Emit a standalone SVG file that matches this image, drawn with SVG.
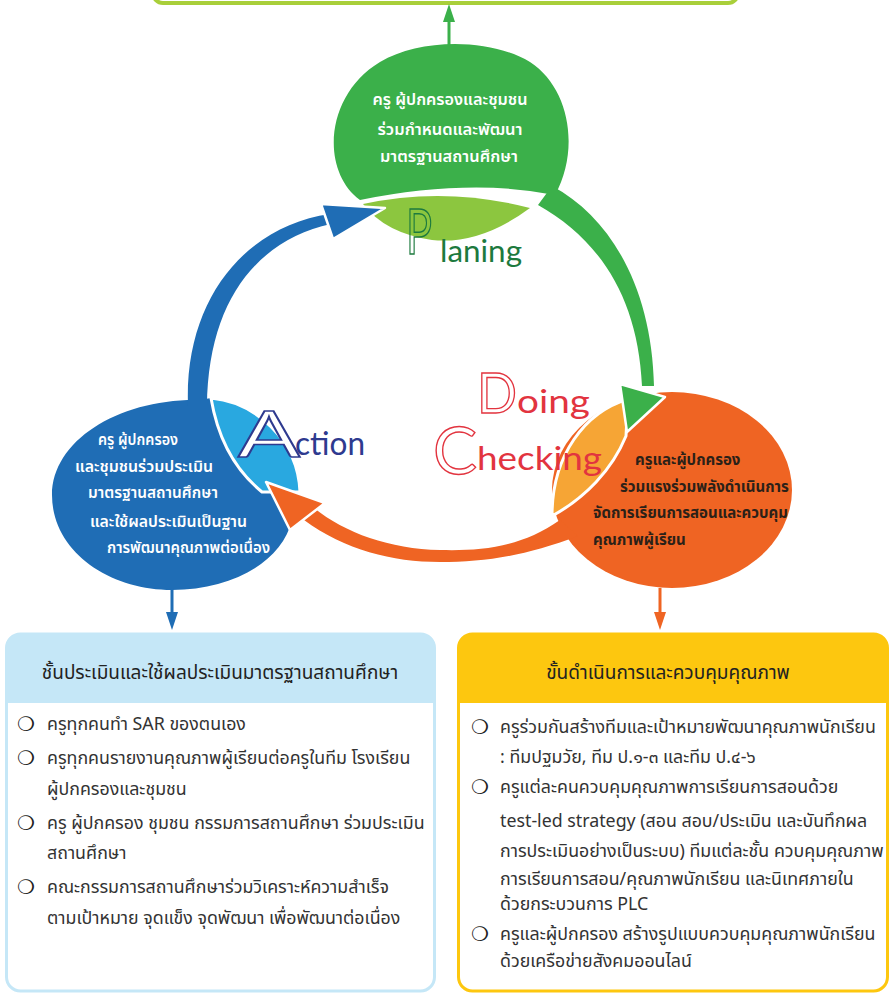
<svg xmlns="http://www.w3.org/2000/svg" width="893" height="994" viewBox="0 0 893 994">
<style>
.th{font-family:"Noto Sans Thai","Noto Sans Thai UI","Noto Sans","DejaVu Sans",sans-serif}
.ct{font-size:15px;font-weight:600;fill:#fff}
.cd{font-size:15px;font-weight:700;fill:#2b2118}
.body{font-size:17.8px;fill:#333}
.title{font-size:19px;fill:#222;text-anchor:middle}
.bul{font-family:"DejaVu Sans",sans-serif;font-size:20px;fill:#222}
.lat{font-family:Lato,"Open Sans",sans-serif}
.hw{stroke:#fff;stroke-width:2.5;stroke-linejoin:round}
</style>
<rect width="893" height="994" fill="#fff"/>

<g id="top-box">
<rect x="153" y="-30" width="585" height="33" rx="10" fill="#fff" stroke="#a9cf3a" stroke-width="4"/>
</g>

<g id="planing">
<path d="M 360,200 C 320,170 325,95 380,62 C 420,38 490,38 530,62 C 570,88 580,150 555,195 Q 470,178 360,200 Z" fill="#3bb04a"/>
<path d="M 363,204 Q 445,186 530,208 Q 480,245 432,240 Q 385,233 363,204 Z" fill="#8cc63f"/>
<g class="th ct" text-anchor="middle">
<text x="450" y="105" textLength="155" lengthAdjust="spacingAndGlyphs">ครู ผู้ปกครองและชุมชน</text>
<text x="450" y="135" textLength="145" lengthAdjust="spacingAndGlyphs">ร่วมกำหนดและพัฒนา</text>
<text x="449" y="162" textLength="138" lengthAdjust="spacingAndGlyphs">มาตรฐานสถานศึกษา</text>
</g>
<text class="lat" x="406" y="254" font-size="62" fill="none" stroke="#1d7a3e" stroke-width="1.6" textLength="26" lengthAdjust="spacingAndGlyphs">P</text>
<text class="lat" x="440" y="262" font-size="30" fill="#1d7a3e" textLength="82" lengthAdjust="spacingAndGlyphs">laning</text>
</g>

<g id="action">
<path d="M 200,400 C 120,398 52,440 52,495 C 52,552 110,590 172,590 C 232,590 282,562 292,520 L 300,490 L 211,398 Z" fill="#1f6db5"/>
<path d="M 211,398 C 255,402 298,440 300,492 L 262,492 C 235,470 218,440 211,398 Z" fill="#29a8e0" stroke="#fff" stroke-width="3"/>
<text class="lat" x="238" y="457" font-size="64" fill="#fff" stroke="#2e3a8f" stroke-width="1.6" textLength="62" lengthAdjust="spacingAndGlyphs">A</text>
<text class="lat" x="295" y="455" font-size="32" fill="#2e3a8f" textLength="70" lengthAdjust="spacingAndGlyphs">ction</text>
<g class="th ct">
<text x="98" y="445" textLength="80" lengthAdjust="spacingAndGlyphs">ครู ผู้ปกครอง</text>
<text x="75" y="472" textLength="138" lengthAdjust="spacingAndGlyphs">และชุมชนร่วมประเมิน</text>
<text x="88" y="498" textLength="130" lengthAdjust="spacingAndGlyphs">มาตรฐานสถานศึกษา</text>
<text x="90" y="527" textLength="157" lengthAdjust="spacingAndGlyphs">และใช้ผลประเมินเป็นฐาน</text>
<text x="107" y="553" textLength="163" lengthAdjust="spacingAndGlyphs">การพัฒนาคุณภาพต่อเนื่อง</text>
</g>
</g>

<g id="doing-checking">
<ellipse cx="672" cy="490" rx="120" ry="98" fill="#ef6423"/>
<path d="M 628,399 C 585,412 552,455 552,516 C 585,498 612,470 626,436 Z" fill="#f6a535" stroke="#fff" stroke-width="3"/>
<text class="lat" x="477" y="413" font-size="56" fill="#fff" stroke="#e2343f" stroke-width="1.4" textLength="40" lengthAdjust="spacingAndGlyphs">D</text>
<text class="lat" x="517" y="413" font-size="33" fill="#e2343f" textLength="73" lengthAdjust="spacingAndGlyphs">oing</text>
<text class="lat" x="433" y="474" font-size="66" fill="#fff" stroke="#e2343f" stroke-width="1.4" textLength="44" lengthAdjust="spacingAndGlyphs">C</text>
<text class="lat" x="477" y="470" font-size="33" fill="#e2343f" textLength="125" lengthAdjust="spacingAndGlyphs">hecking</text>
<g class="th cd">
<text x="635" y="465">ครูและผู้ปกครอง</text>
<text x="620" y="492">ร่วมแรงร่วมพลังดำเนินการ</text>
<text x="593" y="518">จัดการเรียนการสอนและควบคุม</text>
<text x="593" y="545">คุณภาพผู้เรียน</text>
</g>
</g>

<g id="connectors">
<path d="M 188,406 C 184,300 245,226 330,214 L 331,224 C 258,240 208,300 207,406 Z" fill="#1f6db5"/>
<polygon class="hw" points="321,204 385,208 333,239" fill="#1f6db5"/>
<path d="M 552,186 C 612,218 652,290 654,386 L 642,386 C 638,298 600,240 538,205 Z" fill="#3bb04a"/>
<polygon class="hw" points="620,384 665,397 627,432" fill="#3bb04a"/>
<path d="M 560,520 C 520,548 480,551 440,550 C 390,549 345,533 314,508 L 304,520 C 345,550 392,562 440,562 C 485,562 525,556 578,536 Z" fill="#ef6423"/>
<polygon class="hw" points="266,482 325,503 290,530" fill="#ef6423"/>
<line x1="449" y1="46" x2="449" y2="20" stroke="#3bb04a" stroke-width="3"/>
<polygon points="443,22 455,22 449,4" fill="#3bb04a"/>
<line x1="172" y1="588" x2="172" y2="614" stroke="#1f6db5" stroke-width="3"/>
<polygon points="166,612 178,612 172,630" fill="#1f6db5"/>
<line x1="660" y1="588" x2="660" y2="614" stroke="#ef6423" stroke-width="3"/>
<polygon points="654,612 666,612 660,630" fill="#ef6423"/>
</g>

<g id="evaluation-box">
<rect x="6.5" y="634" width="428" height="357" rx="14" fill="#fff" stroke="#c5e7f7" stroke-width="3"/>
<path d="M 6.5,703 V 648 Q 6.5,634 20.5,634 H 420.5 Q 434.5,634 434.5,648 V 703 Z" fill="#c5e7f7"/>
<text class="th title" x="220" y="679">ชั้นประเมินและใช้ผลประเมินมาตรฐานสถานศึกษา</text>
<g class="bul">
<text x="17" y="731">❍</text>
<text x="17" y="765">❍</text>
<text x="17" y="830">❍</text>
<text x="17" y="894">❍</text>
</g>
<g class="th body">
<text x="47" y="730">ครูทุกคนทำ SAR ของตนเอง</text>
<text x="47" y="764">ครูทุกคนรายงานคุณภาพผู้เรียนต่อครูในทีม โรงเรียน</text>
<text x="47" y="795">ผู้ปกครองและชุมชน</text>
<text x="47" y="829">ครู ผู้ปกครอง ชุมชน กรรมการสถานศึกษา ร่วมประเมิน</text>
<text x="47" y="859">สถานศึกษา</text>
<text x="47" y="893">คณะกรรมการสถานศึกษาร่วมวิเคราะห์ความสำเร็จ</text>
<text x="47" y="924">ตามเป้าหมาย จุดแข็ง จุดพัฒนา เพื่อพัฒนาต่อเนื่อง</text>
</g>
</g>

<g id="operation-box">
<rect x="458.5" y="634" width="429" height="357" rx="14" fill="#fff" stroke="#fdc70f" stroke-width="3"/>
<path d="M 458.5,703 V 648 Q 458.5,634 472.5,634 H 873.5 Q 887.5,634 887.5,648 V 703 Z" fill="#fdc70f"/>
<text class="th title" x="668" y="679">ขั้นดำเนินการและควบคุมคุณภาพ</text>
<g class="bul">
<text x="471" y="734">❍</text>
<text x="471" y="794">❍</text>
<text x="471" y="941">❍</text>
</g>
<g class="th body">
<text x="500" y="733">ครูร่วมกันสร้างทีมและเป้าหมายพัฒนาคุณภาพนักเรียน</text>
<text x="500" y="763">: ทีมปฐมวัย, ทีม ป.๑-๓ และทีม ป.๔-๖</text>
<text x="500" y="793">ครูแต่ละคนควบคุมคุณภาพการเรียนการสอนด้วย</text>
<text x="500" y="827">test-led strategy (สอน สอบ/ประเมิน และบันทึกผล</text>
<text x="500" y="857">การประเมินอย่างเป็นระบบ) ทีมแต่ละชั้น ควบคุมคุณภาพ</text>
<text x="500" y="885">การเรียนการสอน/คุณภาพนักเรียน และนิเทศภายใน</text>
<text x="500" y="910">ด้วยกระบวนการ PLC</text>
<text x="500" y="940">ครูและผู้ปกครอง สร้างรูปแบบควบคุมคุณภาพนักเรียน</text>
<text x="500" y="967">ด้วยเครือข่ายสังคมออนไลน์</text>
</g>
</g>
</svg>
